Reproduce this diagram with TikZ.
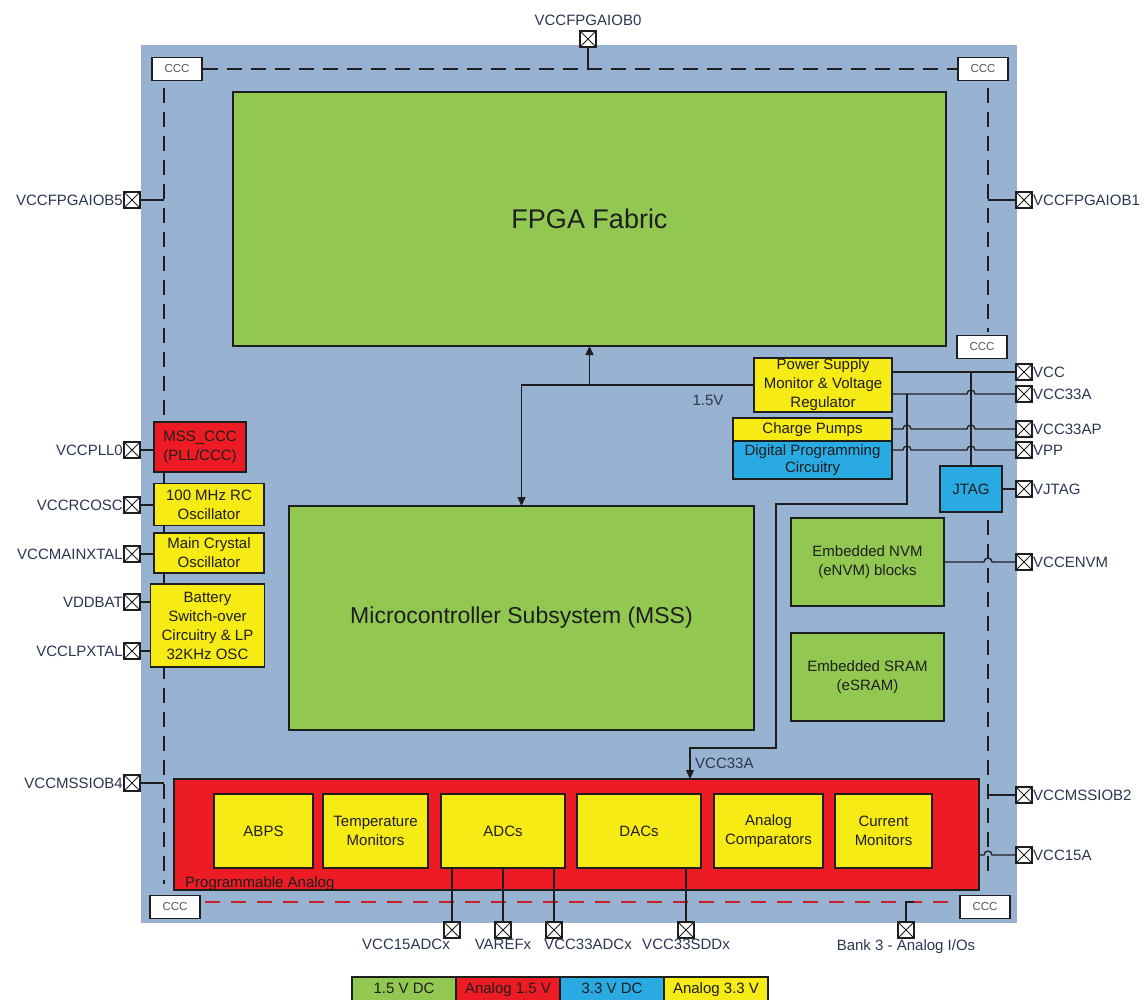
\documentclass[tikz,border=0pt]{standalone}
\usepackage{fontspec}
\setmainfont{Liberation Sans}
\usetikzlibrary{arrows.meta,positioning,calc}
\definecolor{sfblue}{HTML}{98B2D2}
\definecolor{sfgreen}{HTML}{92C851}
\definecolor{sfred}{HTML}{ED1C24}
\definecolor{sfcyan}{HTML}{29AAE2}
\definecolor{sfyellow}{HTML}{F6EB14}
\definecolor{sfink}{HTML}{1E1E1E}
\definecolor{sflabel}{HTML}{2B3650}
\definecolor{sfdash}{HTML}{C8202A}
\newcommand{\bxfont}{\fontsize{15}{19}\selectfont}
\newcommand{\cccfont}{\fontsize{11.5}{12}\selectfont}
\tikzset{
  blk/.style={rectangle, draw=sfink, line width=1.4pt, align=center,
              font=\bxfont, text=sfink, inner sep=1pt, outer sep=0pt},
  core/.style={blk, fill=sfgreen},
  ana/.style={blk, fill=sfred},
  dig/.style={blk, fill=sfcyan},
  aux/.style={blk, fill=sfyellow},
  key/.style={minimum width=104pt, minimum height=24pt, text height=11pt, text depth=3pt},
  ccc/.style={rectangle, draw=sfink, line width=1.4pt, fill=white, minimum width=50pt,
              minimum height=23pt, font=\cccfont, text=sfink!75, inner sep=0pt},
  plab/.style={font=\bxfont, text=sflabel, inner sep=1pt},
  pad/.style={rectangle, draw=sfink, line width=1.3pt, fill=white, minimum size=16pt,
              inner sep=0pt, outer sep=0pt, path picture={\draw[line width=0.9pt]
              (path picture bounding box.south west) -- (path picture bounding box.north east)
              (path picture bounding box.north west) -- (path picture bounding box.south east);}},
  padl/.style={pad, label={[plab]left:#1}},
  padr/.style={pad, label={[plab]right:#1}},
  wire/.style={draw=sfink, line width=1.3pt},
  ar/.style={wire, -{Triangle[length=9pt,width=8pt]}},
  bus/.style={draw=sfink, line width=1.6pt, dash pattern=on 15pt off 9pt},
  abus/.style={draw=sfdash, line width=1.4pt, dash pattern=on 15pt off 11pt},
}
\begin{document}
\begin{tikzpicture}[x=1pt,y=-1pt]
\useasboundingbox (0,0) rectangle (1148,1000);
% --- die
\fill[sfblue] (141,45) rectangle (1017,923);

% --- ccc corners and I/O rails
\node[ccc] (cTL) at (177,69) {CCC};
\node[ccc] (cTR) at (983,69) {CCC};
\node[ccc] (cMR) at (982,347) {CCC};
\node[ccc] (cBL) at (175,907) {CCC};
\node[ccc] (cBR) at (985,907) {CCC};
\draw[bus] (cTL.east) -- (cTR.west);
\coordinate (lt) at (164,88); \coordinate (lb) at (164,884);
\draw[bus] (lt) -- (lb);
\coordinate (rt) at (988,88); \coordinate (rm) at (988,332);
\draw[bus] (rt) -- (rm);
\coordinate (rn) at (988,520); \coordinate (rb) at (988,876);
\draw[bus] (rn) -- (rb);
\coordinate (abl) at (205,902); \coordinate (abr) at (955,902);
\draw[abus] (abl) -- (abr);

% --- main blocks
\node[core, minimum width=713pt, minimum height=254pt, font=\fontsize{27}{30}\selectfont] (fpga) at (589.5,219) {FPGA Fabric};
\node[core, minimum width=465pt, minimum height=224pt, font=\fontsize{23}{26}\selectfont] (mss) at (521.5,618) {Microcontroller Subsystem (MSS)};
\node[aux, minimum width=138pt, minimum height=54pt] (ps) at (823,385) {Power Supply\\Monitor \& Voltage\\Regulator};
\node[aux, minimum width=159pt, minimum height=23pt] (cp) at (812.5,429.5) {Charge Pumps};
\node[dig, minimum width=159pt, minimum height=38pt, font=\fontsize{15}{17}\selectfont, below=0pt of cp] (dpc) {Digital Programming\\Circuitry};
\node[dig, minimum width=62pt, minimum height=46pt] (jtag) at (971,489) {JTAG};
\node[core, minimum width=153pt, minimum height=88pt] (nvm) at (867.5,562) {Embedded NVM\\(eNVM) blocks};
\node[core, minimum width=153pt, minimum height=88pt, below=27pt of nvm] (sram) {Embedded SRAM\\(eSRAM)};

% --- left column
\node[ana, minimum width=92pt, minimum height=50pt] (mscc) at (200,447) {MSS\_CCC\\(PLL/CCC)};
\node[aux, minimum width=110pt, minimum height=42pt] (rcosc) at (209,504.5) {100 MHz RC\\Oscillator};
\node[aux, minimum width=110pt, minimum height=40pt] (xtal) at (209,553) {Main Crystal\\Oscillator};
\node[aux, minimum width=114pt, minimum height=83pt] (bat) at (207.5,625.5) {Battery\\Switch-over\\Circuitry \& LP\\32KHz OSC};

% --- programmable analog
\node[ana, minimum width=805pt, minimum height=111pt] (pana) at (576.5,834.5) {};
\node[plab, text=sfink, anchor=base west] (lpana) at (184,887) {Programmable Analog};
\node[aux, minimum width=99pt, minimum height=74pt] (abps) at (263.5,831) {ABPS};
\node[aux, minimum width=105pt, minimum height=74pt, right=10pt of abps] (temp) {Temperature\\Monitors};
\node[aux, minimum width=124pt, minimum height=74pt, right=13pt of temp] (adc) {ADCs};
\node[aux, minimum width=124pt, minimum height=74pt, right=12pt of adc] (dac) {DACs};
\node[aux, minimum width=109pt, minimum height=74pt, right=13pt of dac] (cmp) {Analog\\Comparators};
\node[aux, minimum width=97pt, minimum height=74pt, right=12pt of cmp] (curm) {Current\\Monitors};

% --- pads
\node[pad, label={[plab, yshift=4pt]above:VCCFPGAIOB0}] (pB0) at (588,39) {};
\node[padl=VCCFPGAIOB5] (pB5) at (132,200) {};
\node[padl=VCCPLL0] (pPLL) at (132,450) {};
\node[padl=VCCRCOSC] (pRC) at (132,505) {};
\node[padl=VCCMAINXTAL] (pXT) at (132,554) {};
\node[padl=VDDBAT] (pBAT) at (132,602) {};
\node[padl=VCCLPXTAL] (pLP) at (132,651) {};
\node[padl=VCCMSSIOB4] (pB4) at (132,783) {};
\node[padr=VCCFPGAIOB1] (pB1) at (1024,200) {};
\node[padr=VCC] (pVCC) at (1024,372) {};
\node[padr=VCC33A] (p33A) at (1024,394) {};
\node[padr=VCC33AP] (pAP) at (1024,429) {};
\node[padr=VPP] (pVPP) at (1024,450) {};
\node[padr=VJTAG] (pJT) at (1024,489) {};
\node[padr=VCCENVM] (pNV) at (1024,562) {};
\node[padr=VCCMSSIOB2] (pB2) at (1024,795) {};
\node[padr=VCC15A] (p15A) at (1024,855) {};
\node[pad, label={[plab, xshift=-46pt]below:VCC15ADCx}] (pA15) at (452,930) {};
\node[pad, label={[plab]below:VAREFx}] (pREF) at (503,930) {};
\node[pad, label={[plab, xshift=34pt]below:VCC33ADCx}] (pA33) at (554,930) {};
\node[pad, label={[plab]below:VCC33SDDx}] (pS33) at (686,930) {};
\node[pad, label={[plab]below:Bank 3 - Analog I/Os}] (pBK) at (906,930) {};

% --- I/O bank feeds
\draw[wire] (pB0.south) -- (pB0.south |- cTL.east);
\draw[wire] (pB5.east) -- (pB5.east -| lt);
\draw[wire] (pB4.east) -- (pB4.east -| lt);
\draw[wire] (pB1.west) -- (pB1.west -| rt);
\draw[wire] (pB2.west) -- (pB2.west -| rt);
\coordinate (bk) at (914,902);
\draw[wire] (pBK.north) |- (bk);

% --- left supplies
\draw[wire] (pPLL.east) -- (pPLL.east -| mscc.west);
\draw[wire] (pRC.east) -- (pRC.east -| rcosc.west);
\draw[wire] (pXT.east) -- (pXT.east -| xtal.west);
\draw[wire] (pBAT.east) -- (pBAT.east -| bat.west);
\draw[wire] (pLP.east) -- (pLP.east -| bat.west);

% --- right supplies
\draw[wire] (ps.east |- pVCC.west) -- (pVCC.west);
\draw[wire] (jtag.north |- pVCC.west) -- (jtag.north);
\draw[wire] (ps.east |- p33A.west) -- (967,394) arc[start angle=180,end angle=360,radius=4] -- (p33A.west);
\draw[wire] (cp.east |- pAP.west) -- (903,429) arc[start angle=180,end angle=360,radius=4]
   -- (967,429) arc[start angle=180,end angle=360,radius=4] -- (pAP.west);
\draw[wire] (dpc.east |- pVPP.west) -- (903,450) arc[start angle=180,end angle=360,radius=4]
   -- (967,450) arc[start angle=180,end angle=360,radius=4] -- (pVPP.west);
\draw[wire] (jtag.east) -- (pJT.west);
\draw[wire] (nvm.east |- pNV.west) -- (984,562) arc[start angle=180,end angle=360,radius=4] -- (pNV.west);
\draw[wire] (pana.east |- p15A.west) -- (984,855) arc[start angle=180,end angle=360,radius=4] -- (p15A.west);

% --- 1.5V and VCC33A distribution
\draw[ar] (ps.west) -| (mss.north);
\draw[ar] (ps.west -| fpga.south) -- (fpga.south);
\node[plab] (l15) at (708,400) {1.5V};
\coordinate (tap) at (907,394);
\draw[ar] (tap) -- (907,504) -- (776,504) -- (776,748) -- (690,748) -- (pana.north -| 690,748);
\node[plab, anchor=west] (l33a) at (694,763) {VCC33A};

% --- analog pins
\draw[wire] (pA15.north) -- (pA15.north |- adc.south);
\draw[wire] (pREF.north) -- (pREF.north |- adc.south);
\draw[wire] (pA33.north) -- (pA33.north |- adc.south);
\draw[wire] (pS33.north) -- (pS33.north |- dac.south);

% --- legend
\node[core, key] (lg1) at (404,989) {1.5 V DC};
\node[ana, key, right=0pt of lg1] (lg2) {Analog 1.5 V};
\node[dig, key, right=0pt of lg2] (lg3) {3.3 V DC};
\node[aux, key, right=0pt of lg3] (lg4) {Analog 3.3 V};
\end{tikzpicture}
\end{document}
